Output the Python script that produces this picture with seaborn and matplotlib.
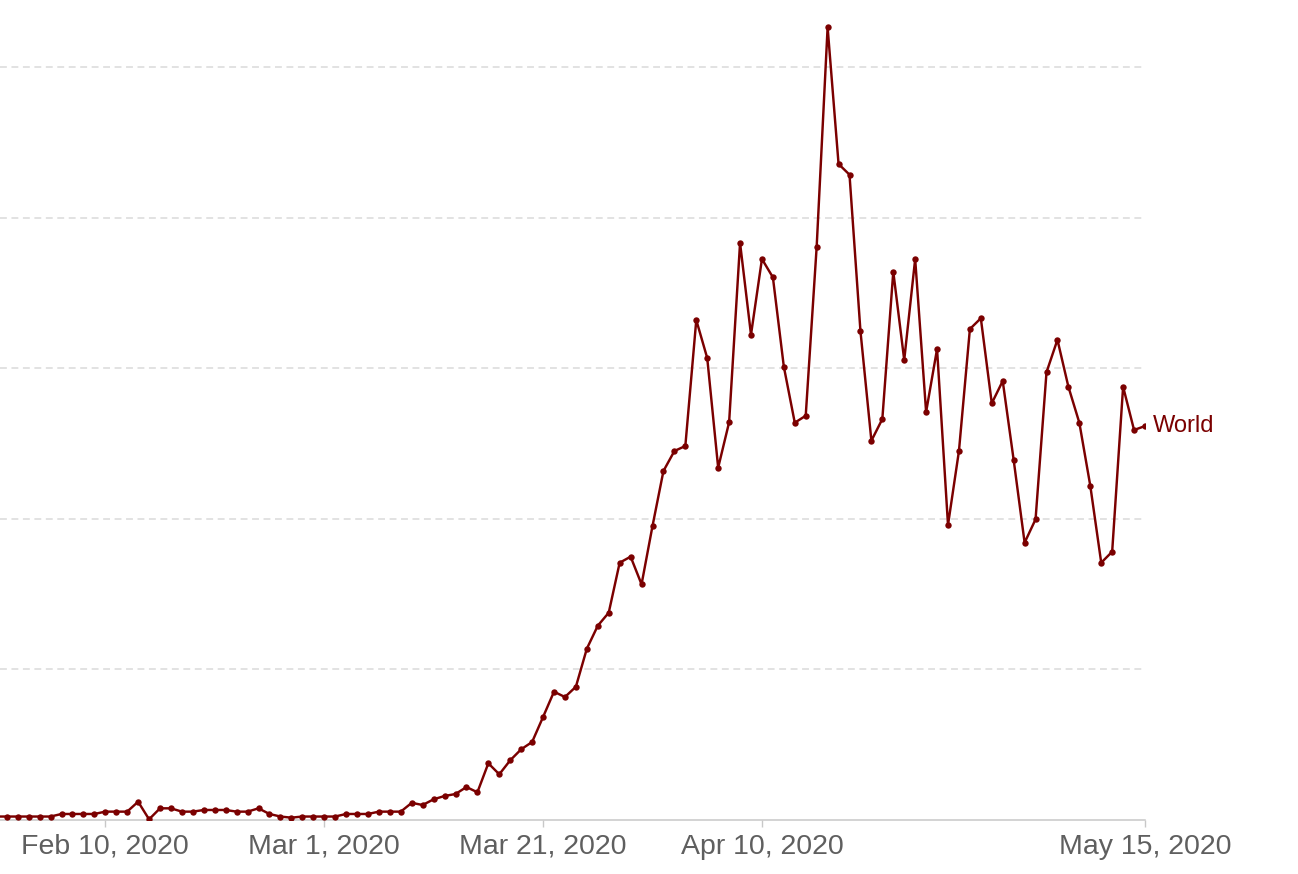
import numpy as np
import pandas as pd
import matplotlib
matplotlib.use("Agg")
import matplotlib.pyplot as plt
import matplotlib.dates as mdates
import seaborn as sns

# ---- data (daily deaths, World) ----
start_date = "2020-01-31"
end_date = "2020-05-15"
deaths = [
    46,                                   # Jan 31
    46, 46, 46, 46, 46, 80, 80, 80, 80,   # Feb 1-9
    111, 111, 111, 243, 9, 155, 155, 111, 111, 133,  # Feb 10-19
    133, 133, 111, 111, 155, 80, 46, 31, 46, 46,     # Feb 20-29
    46, 46, 80, 80, 80, 111, 111, 111, 228, 199,     # Mar 1-10
    275, 319, 345, 438, 368, 753, 607, 793, 939, 1036,  # Mar 11-20
    1368, 1704, 1633, 1770, 2275, 2580, 2753, 3417, 3497, 3130, 3904,  # Mar 21-31
    4635, 4900, 4967, 6640, 6135, 4679, 5282, 7663, 6445, 7450,  # Apr 1-10
    7207, 6020, 5276, 5369, 7613, 10527, 8712, 8570, 6494, 5037,  # Apr 11-20
    5325, 7281, 6109, 7450, 5418, 6255, 3918, 4900, 6520, 6663,  # Apr 21-30
    5534, 5830, 4781, 3683, 3993, 5946, 6378, 5754, 5276, 4440,  # May 1-10
    3417, 3563, 5754, 5179, 5232,                                # May 11-15
]
entity = "World"
tick_dates = ["2020-02-10", "2020-03-01", "2020-03-21", "2020-04-10", "2020-05-15"]
tick_labels = ["Feb 10, 2020", "Mar 1, 2020", "Mar 21, 2020", "Apr 10, 2020", "May 15, 2020"]
grid_values = [2000, 4000, 6000, 8000, 10000]

dates = pd.date_range(start_date, end_date, freq="D")
df = pd.DataFrame({"date": dates, "deaths": deaths, "entity": entity})

color = "#7b0000"

sns.set_theme(style="white")
plt.rcParams["font.family"] = ["Liberation Sans", "DejaVu Sans"]

W, H = 1298, 874
fig = plt.figure(figsize=(W / 100, H / 100), dpi=100)
ax = fig.add_axes([0 / W, (H - 820) / H, 1145 / W, (820 - 10) / H])

sns.lineplot(data=df, x="date", y="deaths", ax=ax, color=color, linewidth=1.75,
             marker="o", markersize=4.6, markeredgewidth=0, legend=False, zorder=3)

x0 = mdates.date2num(pd.Timestamp(start_date)) + 0.38
x1 = mdates.date2num(pd.Timestamp(end_date))
ax.set_xlim(x0, x1)
ax.set_ylim(0, 810 * 2000 / 150.6)

# grid
for gv in grid_values:
    ax.axhline(gv, color="#dadada", linewidth=1.1, linestyle=(0, (4.5, 3)), zorder=1)

ax.set_xticks([mdates.date2num(pd.Timestamp(d)) for d in tick_dates])
ax.set_xticklabels(tick_labels)
ax.set_yticks([])
ax.tick_params(axis="x", bottom=True, length=5, width=1, color="#c8c8c8",
               labelsize=20.5, labelcolor="#5f5f5f", pad=5)
ax.set_xlabel("")
ax.set_ylabel("")
for s in ["left", "top", "right"]:
    ax.spines[s].set_visible(False)
ax.spines["bottom"].set_color("#c8c8c8")
ax.spines["bottom"].set_linewidth(1.1)
ax.patch.set_alpha(0)

last = df.iloc[-1]
ax.annotate(entity, xy=(mdates.date2num(last["date"]), last["deaths"]),
            xytext=(6, 0), textcoords="offset points", ha="left", va="center",
            fontsize=17, color=color, annotation_clip=False)

fig.savefig("out.png", dpi=100)
